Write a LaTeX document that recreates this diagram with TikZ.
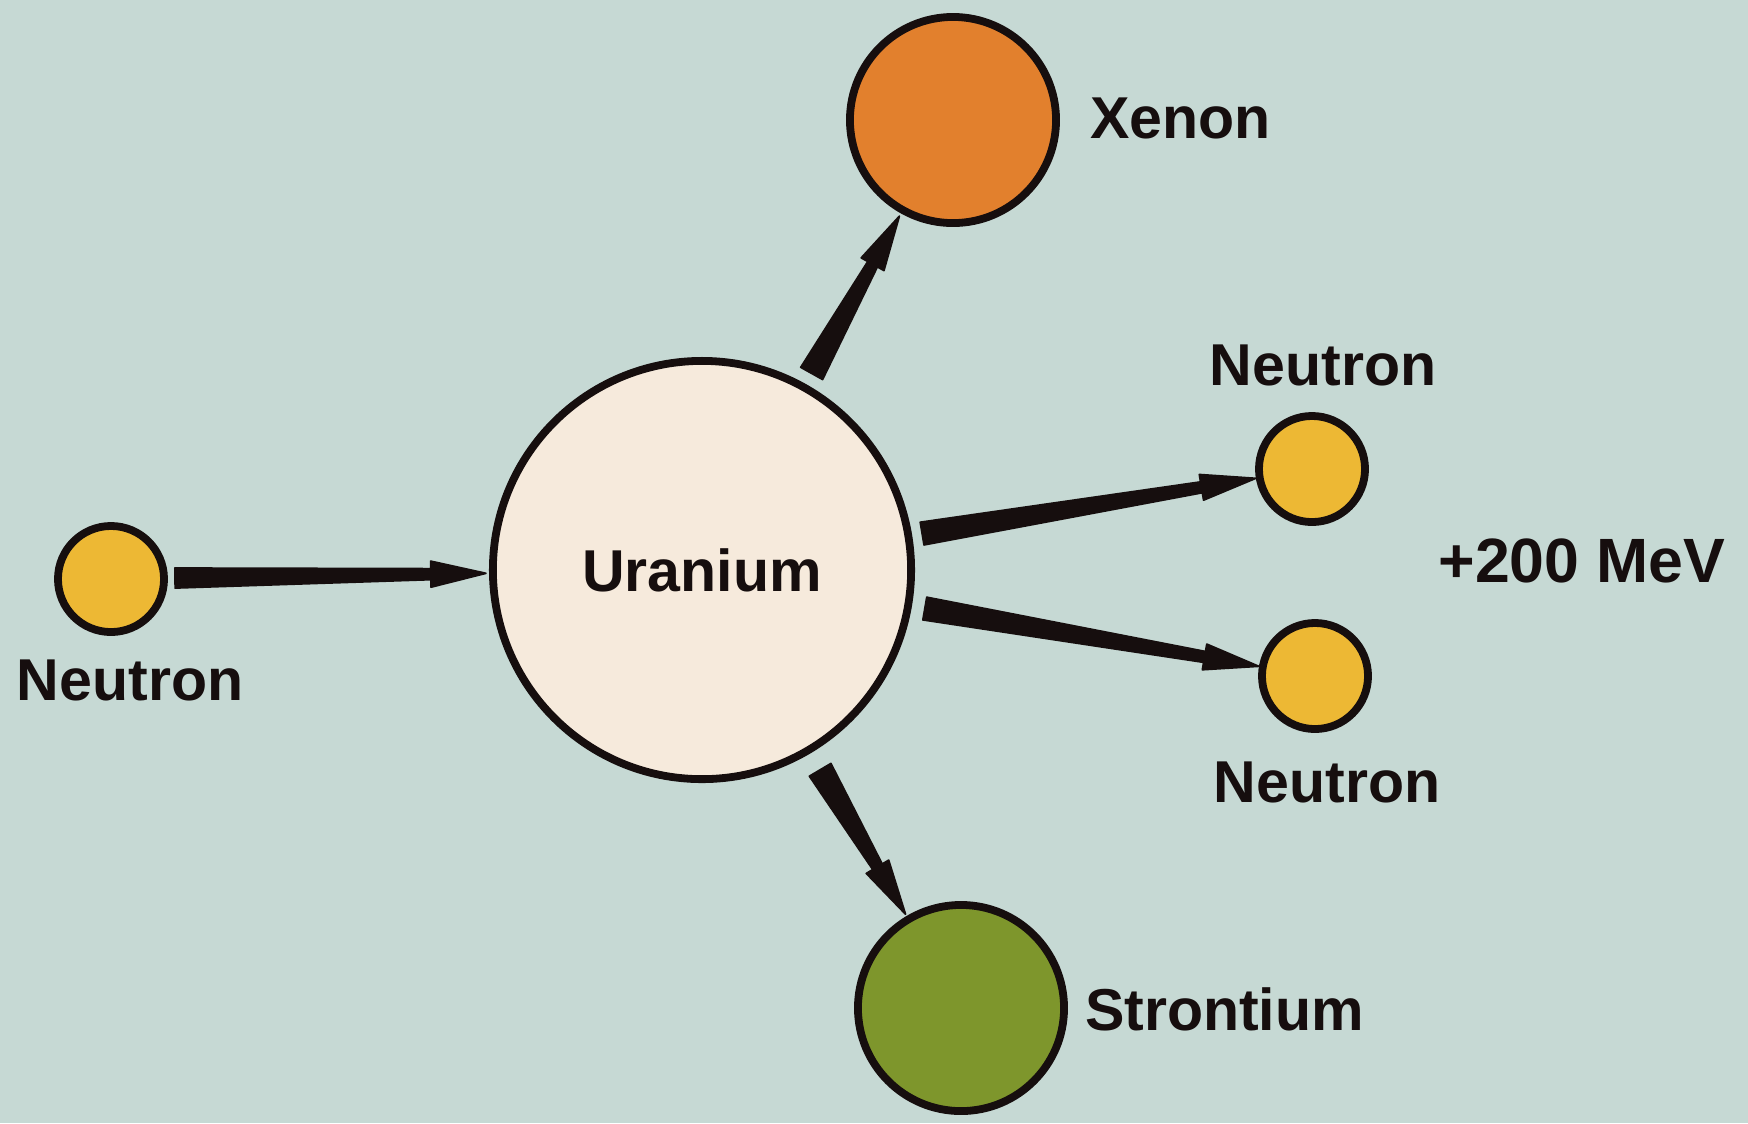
\documentclass[tikz,border=0pt]{standalone}
\usepackage{fontspec}
\setmainfont{Liberation Sans}
\usetikzlibrary{calc}
\definecolor{bg}{RGB}{198,217,212}
\definecolor{ucream}{RGB}{246,234,220}
\definecolor{nyellow}{RGB}{237,184,52}
\definecolor{xorange}{RGB}{226,128,45}
\definecolor{sgreen}{RGB}{126,150,44}
\definecolor{ink}{RGB}{22,14,14}
\tikzset{
  atom/.style={circle, draw=ink, line width=0.078cm, inner sep=0pt, outer sep=0pt},
  lbl/.style={font=\bfseries\fontsize{16.8}{18}\selectfont, text=ink, inner sep=0pt, outer sep=0pt},
  arrowfill/.style={fill=ink, draw=ink, line width=0.5pt, line join=round}
}
\newcommand{\taperarrow}[5]{%
  \coordinate (ta) at ($(#1.center)!#3!(#2.center)$);
  \coordinate (tb) at ($(#2.center)!#4!(#1.center)$);
  \coordinate (tc) at ($(tb)!0.55cm!(ta)$);
  \filldraw[arrowfill] ($(ta)!#5!90:(tb)$) -- ($(tc)!0.055cm!-90:(ta)$) -- ($(tc)!0.13cm!-90:(ta)$) -- (tb)
     -- ($(tc)!0.13cm!90:(ta)$) -- ($(tc)!0.055cm!90:(ta)$) -- ($(ta)!#5!-90:(tb)$) -- cycle;}
\begin{document}
\begin{tikzpicture}[x=0.01cm, y=-0.01cm]
\fill[bg] (0,0) rectangle (1748,1123);
\useasboundingbox (0,0) rectangle (1748,1123);
% atoms
\node[atom, fill=ucream, minimum size=4.18cm, lbl] (U) at (702,570) {Uranium};
\node[atom, fill=nyellow, minimum size=1.06cm] (n0) at (111,579) {};
\node[atom, fill=xorange, minimum size=2.06cm] (Xe) at (953,120) {};
\node[atom, fill=nyellow, minimum size=1.06cm] (n1) at (1312,469) {};
\node[atom, fill=nyellow, minimum size=1.06cm] (n2) at (1315,676) {};
\node[atom, fill=sgreen, minimum size=2.06cm] (Sr) at (961,1008) {};
% labels
\node[lbl, anchor=base] (ln0) at (130,700) {Neutron};
\node[lbl, anchor=base west] (lXe) at (1090,138) {Xenon};
\node[lbl, anchor=base] (ln1) at (1323,385) {Neutron};
\node[lbl, anchor=base] (ln2) at (1327,802) {Neutron};
\node[lbl, anchor=base west] (lSr) at (1085,1030) {Strontium};
\node[lbl, anchor=base, font=\bfseries\fontsize{17.8}{19}\selectfont] (lE) at (1582,582) {+200 MeV};
% arrows
\taperarrow{n0}{U}{0.64cm}{2.16cm}{0.10cm}
\taperarrow{U}{Xe}{2.25cm}{1.10cm}{0.125cm}
\taperarrow{U}{n1}{2.23cm}{0.57cm}{0.115cm}
\taperarrow{U}{n2}{2.26cm}{0.57cm}{0.115cm}
\taperarrow{U}{Sr}{2.32cm}{1.09cm}{0.125cm}
\end{tikzpicture}
\end{document}
